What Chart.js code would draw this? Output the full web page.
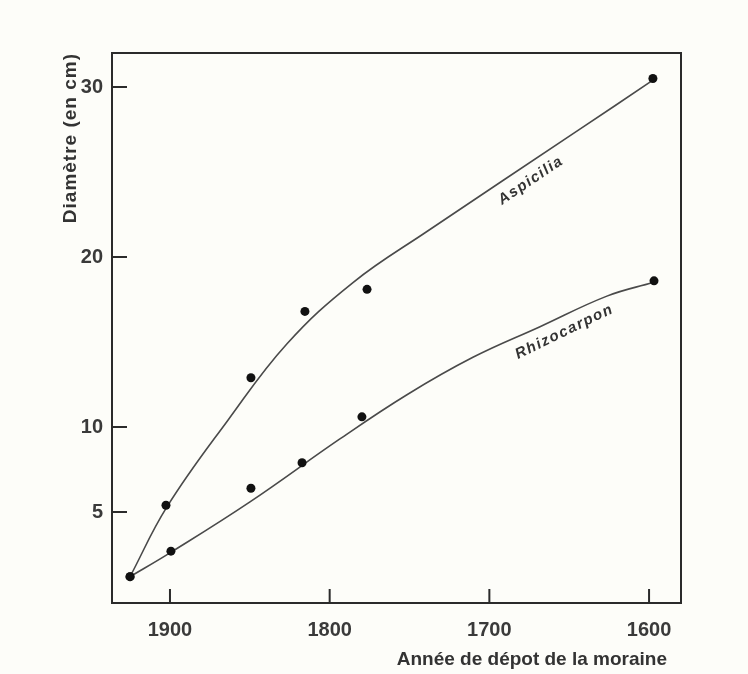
<!DOCTYPE html>
<html>
<head>
<meta charset="utf-8">
<script src="https://cdn.jsdelivr.net/npm/chart.js@4"></script>
<style>
  html, body { margin: 0; padding: 0; background: #fdfdf9; }
  #wrap { width: 748px; height: 674px; }
</style>
</head>
<body>
<div id="wrap"><canvas id="lichenChart" width="748" height="674"></canvas></div>
<script>

  // --- measured points (année de dépôt, diamètre en cm)
  const aspYears = [1925, 1902.5, 1849.3, 1815.5, 1776.6, 1597.6];
  const aspDiam  = [1.2, 5.4, 12.9, 16.8, 18.1, 30.5];
  const rhiYears = [1925, 1899.4, 1849.3, 1817.3, 1779.8, 1596.9];
  const rhiDiam  = [1.2, 2.7, 6.4, 7.9, 10.6, 18.6];

  // --- fitted growth curves
  const aspCurveYears = [1925, 1901.9, 1863.7, 1826.7, 1785.4, 1739.1, 1645.2, 1597.6];
  const aspCurveDiam  = [1.2, 5.3, 10.4, 14.9, 18.5, 21.5, 27.4, 30.4];
  const rhiCurveYears = [1925, 1900, 1849.9, 1793.6, 1751.6, 1710.3, 1668.3, 1626.4, 1597.6];
  const rhiCurveDiam  = [1.2, 2.6, 5.6, 9.3, 11.9, 14.1, 15.9, 17.7, 18.5];

  // --- axis ticks
  const xTicks = [1900, 1800, 1700, 1600];
  const yTicks = [5, 10, 20, 30];

  const xTitle = "Année de dépot de la moraine";
  const yTitle = "Diamètre (en cm)";

  const INK = "#2b2b2b";

  function pairs(xs, ys)
  {
      return xs.map(function(x, i) { return { x: x, y: ys[i] }; });
  }

  /**============================================================
   *  frame, inside tick marks, axis titles and curve names
   ============================================================*/
  const framePlugin = {
      id: "frame",
      afterDraw: function(chart)
      {
          const ctx = chart.ctx;
          const a = chart.chartArea;
          const xs = chart.scales.x;
          const ys = chart.scales.y;

          ctx.save();
          ctx.strokeStyle = INK;
          ctx.lineWidth = 2;
          ctx.lineCap = "square";
          ctx.beginPath();
          ctx.moveTo(a.left, a.bottom);
          ctx.lineTo(a.left, a.top);
          ctx.lineTo(a.right, a.top);
          ctx.lineTo(a.right, a.bottom);
          ctx.lineTo(a.left, a.bottom);
          ctx.stroke();

          ctx.lineCap = "butt";
          ctx.beginPath();
          yTicks.forEach(function(v) {
              const py = ys.getPixelForValue(v);
              ctx.moveTo(a.left, py);
              ctx.lineTo(a.left + 15, py);
          });
          xTicks.forEach(function(v) {
              const px = xs.getPixelForValue(v);
              ctx.moveTo(px, a.bottom);
              ctx.lineTo(px, a.bottom - 14);
          });
          ctx.stroke();

          // axis titles
          ctx.fillStyle = "#333";
          ctx.font = "bold 19px 'Liberation Sans', Arial, sans-serif";
          ctx.textAlign = "right";
          ctx.textBaseline = "middle";
          ctx.fillText(xTitle, 667, 660);

          ctx.save();
          ctx.translate(71, a.top);
          ctx.rotate(-Math.PI / 2);
          ctx.font = "bold 19px 'Liberation Sans', Arial, sans-serif";
          ctx.letterSpacing = "1px";
          ctx.textAlign = "right";
          ctx.fillText(yTitle, 0, 0);
          ctx.restore();

          // curve names, placed in data coordinates
          drawName(ctx, "Aspicilia", xs.getPixelForValue(1674), ys.getPixelForValue(24.5), -34);
          drawName(ctx, "Rhizocarpon", xs.getPixelForValue(1653), ys.getPixelForValue(15.6), -26);
          ctx.restore();
      }
  };

  function drawName(ctx, txt, px, py, deg)
  {
      ctx.save();
      ctx.translate(px, py);
      ctx.rotate(deg * Math.PI / 180);
      ctx.font = "italic bold 15px 'Liberation Sans', Arial, sans-serif";
      ctx.letterSpacing = "1.5px";
      ctx.fillStyle = "#333";
      ctx.textAlign = "center";
      ctx.textBaseline = "middle";
      ctx.fillText(txt, 0, 0);
      ctx.restore();
  }

  const bgPlugin = {
      id: "bg",
      beforeDraw: function(chart)
      {
          const ctx = chart.ctx;
          ctx.save();
          ctx.fillStyle = "#fdfdf9";
          ctx.fillRect(0, 0, chart.width, chart.height);
          ctx.restore();
      }
  };

  const curveStyle = {
      showLine: true,
      borderColor: "#4a4a4a",
      borderWidth: 1.6,
      pointRadius: 0,
      tension: 0.4,
      fill: false
  };

  const dotStyle = {
      showLine: false,
      pointRadius: 4.5,
      pointBackgroundColor: "#111",
      pointBorderColor: "#111",
      pointBorderWidth: 0
  };

  const lichenChart = new Chart(document.getElementById("lichenChart"), {
      type: "scatter",
      data: {
          datasets: [
              Object.assign({ label: "Aspicilia (courbe)", data: pairs(aspCurveYears, aspCurveDiam), order: 2 }, curveStyle),
              Object.assign({ label: "Rhizocarpon (courbe)", data: pairs(rhiCurveYears, rhiCurveDiam), order: 2 }, curveStyle),
              Object.assign({ label: "Aspicilia", data: pairs(aspYears, aspDiam), order: 1 }, dotStyle),
              Object.assign({ label: "Rhizocarpon", data: pairs(rhiYears, rhiDiam), order: 1 }, dotStyle)
          ]
      },
      options: {
          responsive: false,
          animation: false,
          layout: { padding: { left: 0, top: 53, right: 67, bottom: 0 } },
          plugins: {
              legend: { display: false },
              tooltip: { enabled: false }
          },
          scales: {
              x: {
                  type: "linear",
                  reverse: true,
                  min: 1580,
                  max: 1936.3,
                  afterBuildTicks: function(scale) { scale.ticks = xTicks.map(function(v) { return { value: v }; }); },
                  afterFit: function(scale) { scale.height = 71; },
                  grid: { display: false, drawTicks: false },
                  border: { display: false },
                  ticks: {
                      padding: 15,
                      color: "#3a3a3a",
                      font: { family: "'Liberation Sans', Arial, sans-serif", size: 20, weight: "bold" },
                      maxRotation: 0,
                      callback: function(v) { return String(v); }
                  }
              },
              y: {
                  type: "linear",
                  min: -0.35,
                  max: 32,
                  afterBuildTicks: function(scale) { scale.ticks = yTicks.map(function(v) { return { value: v }; }); },
                  afterFit: function(scale) { scale.width = 112; },
                  grid: { display: false, drawTicks: false },
                  border: { display: false },
                  ticks: {
                      padding: 9,
                      color: "#3a3a3a",
                      font: { family: "'Liberation Sans', Arial, sans-serif", size: 20, weight: "bold" },
                      callback: function(v) { return String(v); }
                  }
              }
          }
      },
      plugins: [bgPlugin, framePlugin]
  });

</script>
</body>
</html>
